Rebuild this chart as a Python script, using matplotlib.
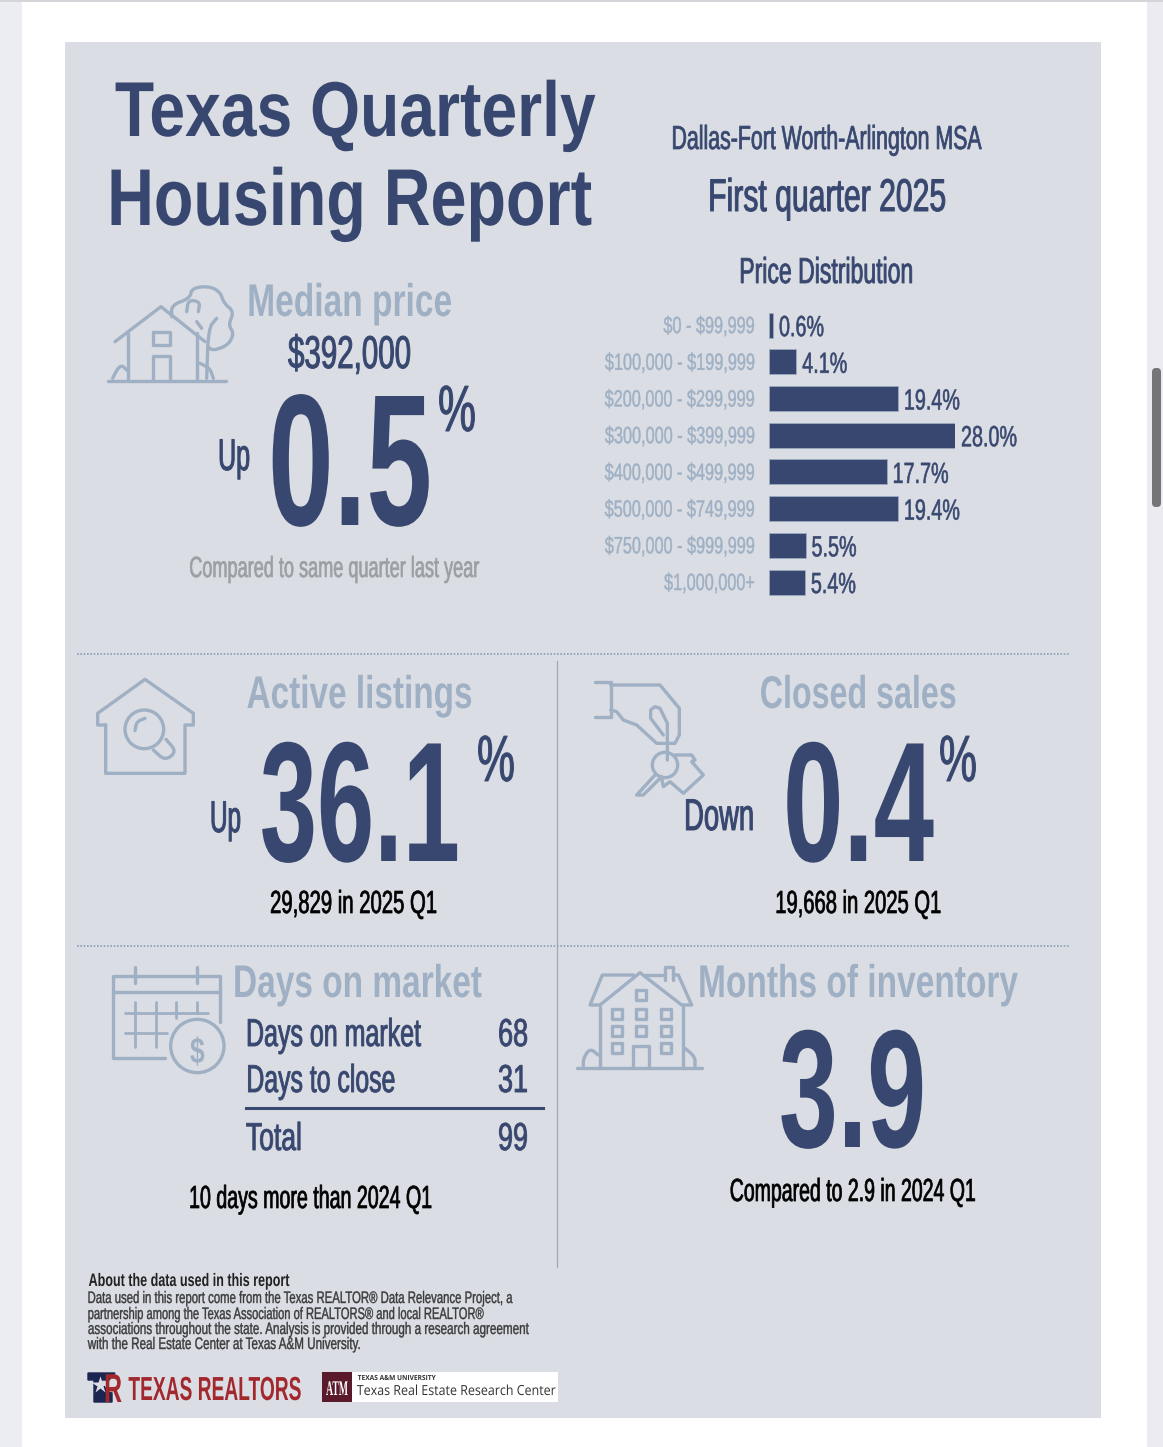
import matplotlib
matplotlib.use("Agg")
import matplotlib.pyplot as plt
from matplotlib.patches import Rectangle, Circle, FancyBboxPatch
from matplotlib.patheffects import AbstractPathEffect
from matplotlib.transforms import Affine2D

W, H = 1163, 1447
NAVY = "#38476f"
LIGHT = "#9fb0c4"
GRAY = "#9b9fa4"
PANEL = "#dadde3"
SANS = ["Liberation Sans", "DejaVu Sans"]

# ---- data ----
price_bands = ["$0 - $99,999", "$100,000 - $199,999", "$200,000 - $299,999", "$300,000 - $399,999",
               "$400,000 - $499,999", "$500,000 - $749,999", "$750,000 - $999,999", "$1,000,000+"]
price_share = [0.6, 4.1, 19.4, 28.0, 17.7, 19.4, 5.5, 5.4]
dom_rows = ["Days on market", "Days to close", "Total"]
dom_values = [68, 31, 99]
about_lines = ["Data used in this report come from the Texas REALTOR\u00ae Data Relevance Project, a",
               "partnership among the Texas Association of REALTORS\u00ae and local REALTOR\u00ae",
               "associations throughout the state. Analysis is provided through a research agreement",
               "with the Real Estate Center at Texas A&M University."]

fig = plt.figure(figsize=(W / 100, H / 100), dpi=100, facecolor="#ffffff")
ax = fig.add_axes([0, 0, 1, 1])
ax.set_xlim(0, W)
ax.set_ylim(H, 0)
ax.axis("off")
renderer = fig.canvas.get_renderer()


class Tall(AbstractPathEffect):
    """Stretches the glyphs of a text upward from its baseline and thickens them slightly
    (the reference font is condensed and of medium weight)."""

    def __init__(self, sy, w=0.0):
        super().__init__()
        self.sy = sy
        self.w = w

    def draw_path(self, renderer, gc, tpath, affine, rgbFace=None):
        gc0 = renderer.new_gc()
        gc0.copy_properties(gc)
        gc0.set_linewidth(self.w)
        if self.w > 0 and rgbFace is not None:
            gc0.set_foreground(rgbFace)
        renderer.draw_path(gc0, tpath, Affine2D().scale(1, self.sy) + affine, rgbFace)
        gc0.restore()


def size_for(s, width, weight="normal", family=SANS):
    t = ax.text(0, 0, s, fontsize=100, family=family, weight=weight, parse_math=False)
    w = t.get_window_extent(renderer).width
    t.remove()
    return 100 * width / w


def tall_for(size, cap):
    return cap / (0.72 * size * 100 / 72)


def fit(s, x0, x1, base, cap, color=NAVY, weight="normal", family=SANS, z=5, w=None):
    size = size_for(s, x1 - x0, weight, family)
    t = ax.text((x0 + x1) / 2, base, s, fontsize=size, color=color, weight=weight, family=family,
                ha="center", va="baseline", zorder=z, parse_math=False)
    if w is None:
        w = min(0.7, max(0.15, cap / 45)) if weight == "normal" else 0.0
    t.set_path_effects([Tall(tall_for(size, cap), w)])
    return t


def chaikin(pts, n=2):
    for _ in range(n):
        out = [pts[0]]
        for a, b in zip(pts[:-1], pts[1:]):
            out.append((0.75 * a[0] + 0.25 * b[0], 0.75 * a[1] + 0.25 * b[1]))
            out.append((0.25 * a[0] + 0.75 * b[0], 0.25 * a[1] + 0.75 * b[1]))
        out.append(pts[-1])
        pts = out
    return pts


def stroke(ox, oy, pts, lw=2.4, smooth=False, color=LIGHT, k=3.0):
    p = [(ox + x / k, oy + y / k) for x, y in pts]
    if smooth:
        p = chaikin(p)
    ax.plot([q[0] for q in p], [q[1] for q in p], color=color, lw=lw, solid_capstyle="round",
            solid_joinstyle="round", zorder=4)


def ring(ox, oy, cx, cy, r, lw=2.4, k=3.0):
    ax.add_patch(Circle((ox + cx / k, oy + cy / k), r / k, fill=False, ec=LIGHT, lw=lw, zorder=4))


# ---- page ----
ax.add_patch(Rectangle((0, 0), 22, H, fc="#ecedf2", ec="none"))
ax.add_patch(Rectangle((1147, 0), W - 1147, H, fc="#ecebf1", ec="none"))
ax.add_patch(Rectangle((0, 0), W, 2, fc="#d5d5d9", ec="none"))
ax.add_patch(FancyBboxPatch((1152, 368), 9, 139, boxstyle="round,pad=0,rounding_size=4", fc="#757577", ec="none"))
ax.add_patch(Rectangle((65, 42), 1036, 1376, fc=PANEL, ec="none"))

# ---- header ----
fit("Texas Quarterly", 115, 596, 136, 56, weight="bold")
fit("Housing Report", 107, 592, 225, 58, weight="bold")
fit("Dallas-Fort Worth-Arlington MSA", 671, 981, 149, 24)
fit("First quarter 2025", 708, 946, 211, 33)
fit("Price Distribution", 739, 913, 283, 26)

# ---- median price ----
fit("Median price", 247, 452, 316, 33, color=LIGHT, weight="bold")
fit("$392,000", 288, 411, 368, 33)
fit("Up", 218, 250, 470, 32)
fit("0.5", 268, 432, 525, 135, weight="bold")
fit("%", 438, 476, 431, 47)
fit("Compared to same quarter last year", 189, 479, 577, 21, color=GRAY)

# ---- price distribution bars ----
top, step = 306.8, 36.7
bx = fig.add_axes([769 / W, 1 - (top + step * len(price_share)) / H, 186 / W, step * len(price_share) / H])
bx.patch.set_alpha(0)
y = list(range(len(price_share)))
bars = bx.barh(y, price_share, height=0.68, color=NAVY, edgecolor=LIGHT, linewidth=0.5)
bx.set_xlim(0, 28)
bx.set_ylim(len(price_share) - 0.5, -0.5)
bx.set_yticks(y, price_bands)
label_size = size_for("$100,000 - $199,999", 150)
bx.tick_params(axis="y", length=0, pad=10.5, labelcolor=LIGHT, labelsize=label_size)
for lab in bx.get_yticklabels():
    lab.set_family(SANS)
    lab.set_parse_math(False)
    lab.set_va("baseline")
    lab.set_transform(lab.get_transform() + Affine2D().translate(0, -8))
    lab.set_path_effects([Tall(tall_for(label_size, 17), 0.3)])
bx.set_xticks([])
for s in bx.spines.values():
    s.set_visible(False)
val_size = size_for("28.0%", 56)
for i, v in enumerate(price_share):
    t = bx.annotate(f"{v:.1f}%", (v, i), xytext=(6 * 0.72, -11 * 0.72), textcoords="offset points", va="baseline",
                    ha="left", color=NAVY, fontsize=val_size, family=SANS, annotation_clip=False)
    t.set_path_effects([Tall(tall_for(val_size, 21), 0.4)])

# ---- separators ----
for yy in (654, 946):
    ax.plot([77, 1069], [yy, yy], color="#8d9fb8", lw=1.2, ls=(0, (1, 1)), zorder=3)
ax.plot([557, 557], [661, 1267], color="#a0a9b5", lw=0.9, zorder=3)

# ---- active listings ----
fit("Active listings", 247, 473, 708, 33, color=LIGHT, weight="bold")
fit("Up", 210, 241, 832, 32)
fit("36.1", 260, 460, 861, 123, weight="bold")
fit("%", 477, 515, 781, 47)
fit("29,829 in 2025 Q1", 270, 437, 913, 23, color="#000000")

# ---- closed sales ----
fit("Closed sales", 760, 957, 708, 33, color=LIGHT, weight="bold")
fit("Down", 684, 754, 830, 32)
fit("0.4", 783, 934, 861, 123, weight="bold")
fit("%", 939, 977, 781, 47)
fit("19,668 in 2025 Q1", 775, 941, 913, 23, color="#000000")

# ---- days on market ----
fit("Days on market", 233, 482, 997, 33, color=LIGHT, weight="bold")
row_base = [1046, 1092, 1150]
row_right = [421, 395, 302]
for name, val, b, r in zip(dom_rows, dom_values, row_base, row_right):
    fit(name, 246, r, b, 28)
    fit(str(val), 498, 528, b, 28)
ax.plot([246, 543], [1108, 1108], color=NAVY, lw=2.2, zorder=4)
fit("10 days more than 2024 Q1", 190, 433, 1208, 23, color="#000000")

# ---- months of inventory ----
fit("Months of inventory", 698, 1018, 997, 33, color=LIGHT, weight="bold")
fit("3.9", 779, 926, 1147, 121, weight="bold")
fit("Compared to 2.9 in 2024 Q1", 730, 976, 1201, 23, color="#000000")

# ---- about ----
fit("About the data used in this report", 88, 289, 1286, 13, color="#222222", weight="bold")
for line, b, r in zip(about_lines, [1303, 1319, 1334, 1349], [513, 484, 529, 361]):
    fit(line, 88, r, b, 12, color="#3a3a3a")

# ---- logos ----
ax.fill([88, 115, 109, 101, 99, 88], [1373, 1373, 1380, 1380, 1380, 1380], color="#1a2550", zorder=4)
ax.fill([94, 100, 108, 112, 112, 94], [1380, 1380, 1392, 1393, 1402, 1402], color="#1a2550", zorder=4)
ax.plot([100], [1385], marker="*", ms=13, color=PANEL, mec="none", zorder=5)
fit("R", 104, 122, 1402, 29, color="#a3282e", weight="bold", z=6)
fit("TEXAS REALTORS", 128, 301, 1400, 24, color="#a3282e", weight="bold")
ax.add_patch(Rectangle((351, 1372), 207, 30, fc="#ffffff", ec="none", zorder=4))
ax.add_patch(Rectangle((322, 1372), 30, 30, fc="#5b1a2c", ec="none", zorder=4))
fit("ATM", 326, 348, 1395, 15, color="#ffffff", weight="bold", family=["Liberation Serif"])
fit("TEXAS A&M UNIVERSITY", 358, 436, 1380, 5, color="#333333", weight="bold", family=["Open Sans"])
fit("Texas Real Estate Research Center", 358, 557, 1395, 10, color="#333333", family=["Open Sans"], w=0.0)

# ---- icons ----
# median price: house and tree
o = (80, 270)
stroke(*o, [(85, 332), (437, 332)])
stroke(*o, [(105, 215), (243, 110), (375, 215)])
stroke(*o, [(143, 190), (143, 330)])
stroke(*o, [(350, 190), (350, 330)])
stroke(*o, [(218, 187), (270, 187), (270, 225), (218, 225), (218, 187)])
stroke(*o, [(218, 330), (218, 257), (270, 257), (270, 330)])
stroke(*o, [(275, 140), (275, 105), (330, 85), (335, 55), (385, 48), (420, 65), (432, 100), (462, 125),
            (445, 165), (462, 190), (445, 225), (400, 242), (385, 232)], smooth=True)
stroke(*o, [(320, 125), (325, 90), (360, 95), (355, 125)], smooth=True)
stroke(*o, [(410, 145), (385, 175), (380, 325)], smooth=True)
stroke(*o, [(350, 155), (365, 175)])
stroke(*o, [(98, 325), (110, 300), (125, 285), (140, 300)], smooth=True)
stroke(*o, [(360, 280), (390, 295), (400, 325)], smooth=True)

# active listings: house with magnifier
o = (85, 670)
stroke(*o, [(62, 165), (38, 165), (38, 130), (180, 28), (325, 130), (325, 165), (300, 165), (300, 310),
            (62, 310), (62, 165)])
ring(*o, 178, 178, 58)
stroke(*o, [(150, 182), (155, 155), (180, 145)], smooth=True)
stroke(*o, [(205, 240), (240, 272), (275, 245), (243, 208)], smooth=True)

# closed sales: hand and keys
o = (580, 660)
stroke(*o, [(45, 65), (92, 65), (92, 170), (45, 170)])
stroke(*o, [(92, 75), (240, 75), (298, 145), (298, 225), (285, 250), (255, 250)])
stroke(*o, [(92, 150), (110, 155), (130, 180), (170, 195), (230, 250), (250, 250)])
stroke(*o, [(262, 300), (262, 190), (240, 145), (225, 140), (212, 150), (212, 175), (250, 225)])
ring(*o, 255, 315, 38)
stroke(*o, [(225, 345), (170, 405), (190, 405), (245, 350)])
stroke(*o, [(285, 285), (335, 285), (345, 300), (335, 305), (370, 345), (310, 400), (270, 365), (250, 380),
            (245, 355)])

# days on market: calendar
o = (90, 960)
stroke(*o, [(390, 185), (390, 48), (68, 48), (68, 293), (225, 293)])
stroke(*o, [(68, 95), (390, 95)])
for xx in (135, 320):
    stroke(*o, [(xx, 20), (xx, 70)])
stroke(*o, [(105, 160), (355, 160)], lw=2.0)
stroke(*o, [(105, 220), (230, 220)], lw=2.0)
for xx, yy in ((135, 262), (197, 262), (258, 175), (320, 160)):
    stroke(*o, [(xx, 125), (xx, yy)], lw=2.0)
ring(*o, 322, 258, 80)
fit("$", 90 + 300 / 3, 90 + 344 / 3, 1063, 26, color=LIGHT, weight="bold")

# months of inventory: big house
o = (570, 960)
stroke(*o, [(22, 323), (395, 323)])
stroke(*o, [(90, 140), (90, 323)])
stroke(*o, [(338, 140), (338, 323)])
stroke(*o, [(190, 45), (97, 45), (60, 135), (90, 135), (210, 38), (335, 135), (365, 135), (325, 45), (310, 45)])
stroke(*o, [(225, 45), (285, 45)])
stroke(*o, [(285, 60), (285, 22), (310, 22), (310, 60)])
for wx, wy in [(212, 105), (140, 162), (212, 162), (288, 162), (140, 213), (212, 213), (288, 213), (140, 265),
               (288, 265)]:
    stroke(*o, [(wx - 15, wy - 15), (wx + 15, wy - 15), (wx + 15, wy + 15), (wx - 15, wy + 15), (wx - 15, wy - 15)])
stroke(*o, [(190, 323), (190, 258), (238, 258), (238, 323)])
stroke(*o, [(40, 320), (40, 295), (60, 265), (85, 285)], smooth=True)
stroke(*o, [(345, 265), (375, 290), (375, 320)], smooth=True)

fig.savefig("out.png", dpi=100, facecolor=fig.get_facecolor())
